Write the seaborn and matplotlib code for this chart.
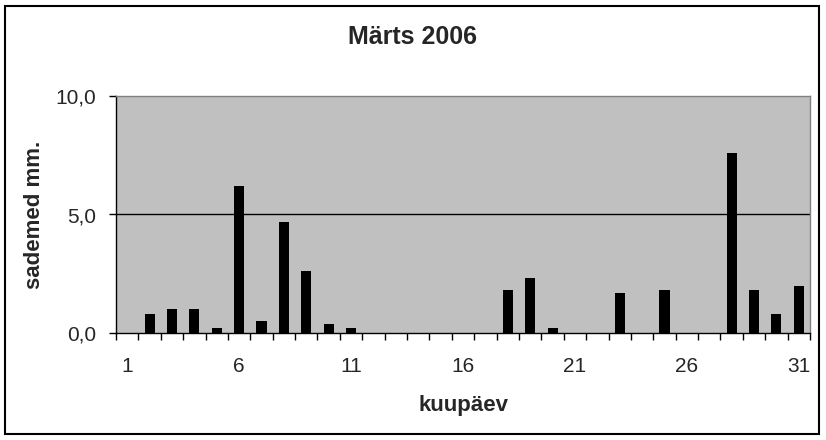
import numpy as np
import pandas as pd
import matplotlib
matplotlib.use("Agg")
import matplotlib.pyplot as plt
import seaborn as sns
from matplotlib.patches import Rectangle

# andmed: märtsi 2006 päevased sademed
days = [1, 2, 3, 4, 5, 6, 7, 8, 9, 10, 11, 12, 13, 14, 15, 16,
        17, 18, 19, 20, 21, 22, 23, 24, 25, 26, 27, 28, 29, 30, 31]
rain_mm = [0.0, 0.8, 1.0, 1.0, 0.2, 6.2, 0.5, 4.7, 2.6, 0.4, 0.2, 0.0, 0.0, 0.0, 0.0, 0.0,
           0.0, 1.8, 2.3, 0.2, 0.0, 0.0, 1.7, 0.0, 1.8, 0.0, 0.0, 7.6, 1.8, 0.8, 2.0]
y_ticks = [0.0, 5.0, 10.0]
y_ticklabels = ["0,0", "5,0", "10,0"]
label_days = [1, 6, 11, 16, 21, 26, 31]

df = pd.DataFrame({"päev": days, "sademed": rain_mm})

sns.set_style("white")
plt.rcParams['font.family'] = ['Liberation Sans', 'DejaVu Sans']

fig = plt.figure(figsize=(8.26, 4.40), dpi=100)
fig.patch.set_facecolor("white")
ax = fig.add_axes([116 / 826, 1 - 333 / 440, (810 - 116) / 826, (333 - 96) / 440])
ax.set_facecolor("#C0C0C0")

sns.barplot(data=df, x="päev", y="sademed", color="black", saturation=1,
            width=0.45, linewidth=0, ax=ax, zorder=3)

ax.set_xlim(-0.5, len(days) - 0.5)
ax.set_ylim(0, 10)

# y-telg
ax.set_yticks(y_ticks)
ax.set_yticklabels(y_ticklabels, fontsize=15)
ax.tick_params(axis="y", direction="out", length=5, width=1, color="black", pad=9, left=True)
ax.axhline(5.0, color="black", linewidth=1, zorder=2)

# x-telg: märgid kategooriate vahel, sildid iga 5. päeva all
pos = [days.index(d) for d in label_days]
ax.set_xticks(pos)
ax.set_xticklabels([str(d) for d in label_days], fontsize=15)
ax.set_xticks(np.arange(len(days) + 1) - 0.5, minor=True)
ax.tick_params(axis="x", which="major", length=0, pad=17, bottom=True)
ax.tick_params(axis="x", which="minor", direction="out", length=5, width=1,
               color="black", bottom=True)

ax.set_xlabel("")
ax.set_ylabel("")
for side in ["left", "bottom"]:
    ax.spines[side].set_color("black")
    ax.spines[side].set_linewidth(1)
for side in ["top", "right"]:
    ax.spines[side].set_color("#808080")
    ax.spines[side].set_linewidth(1)

fig.text(413 / 826, 1 - 37 / 440, "Märts 2006", ha="center", va="center",
         fontsize=18, fontweight="bold")
fig.text(463 / 826, 1 - 405 / 440, "kuupäev", ha="center", va="center",
         fontsize=16, fontweight="bold")
fig.text(35 / 826, 1 - 215 / 440, "sademed mm.", ha="center", va="center",
         rotation=90, fontsize=16, fontweight="bold")

# raam ümber kogu joonise
fig.patches.append(Rectangle((5 / 826, 6 / 440), 814 / 826, 428 / 440,
                             transform=fig.transFigure, fill=False,
                             edgecolor="black", linewidth=1.5))

fig.savefig("out.png", dpi=100)
